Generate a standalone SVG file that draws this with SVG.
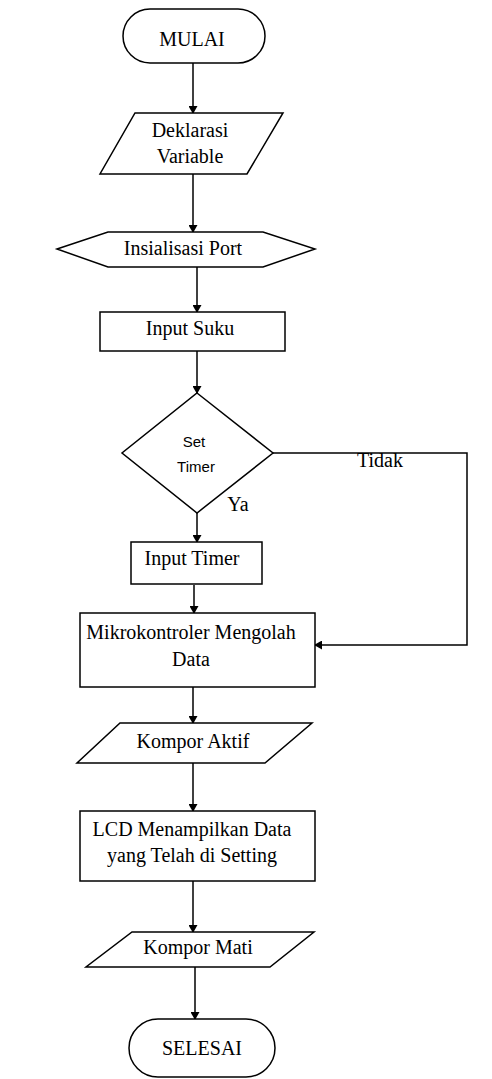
<svg xmlns="http://www.w3.org/2000/svg" width="492" height="1079" viewBox="0 0 492 1079">
<style>
.s{fill:#fff;stroke:#000;stroke-width:1.5}
.t{font-family:"Liberation Serif","Times New Roman",serif;font-size:20px;fill:#000;text-anchor:middle}
.ss{font-family:"Liberation Sans",Arial,sans-serif;font-size:15px;fill:#000;text-anchor:middle}
.c{fill:none;stroke:#000;stroke-width:1.5}
</style>
<defs>
<marker id="ah" markerWidth="8" markerHeight="9" refX="7" refY="4.5" orient="auto" markerUnits="userSpaceOnUse">
<path d="M0,0 L8,4.5 L0,9 Z" fill="#000"/>
</marker>
</defs>
<g id="connectors">
<path class="c" d="M193,63 V113" marker-end="url(#ah)"/>
<path class="c" d="M193,174 V232" marker-end="url(#ah)"/>
<path class="c" d="M197,267 V312" marker-end="url(#ah)"/>
<path class="c" d="M197,351 V393" marker-end="url(#ah)"/>
<path class="c" d="M197,513 V542" marker-end="url(#ah)"/>
<path class="c" d="M194,585 V613" marker-end="url(#ah)"/>
<path class="c" d="M273,453 H467 V645 H315" marker-end="url(#ah)"/>
<path class="c" d="M193,687 V723" marker-end="url(#ah)"/>
<path class="c" d="M193,763 V811" marker-end="url(#ah)"/>
<path class="c" d="M193,881 V932" marker-end="url(#ah)"/>
<path class="c" d="M195,967 V1019" marker-end="url(#ah)"/>
<text class="t" x="380" y="467" font-size="19">Tidak</text>
<text class="t" x="238" y="511" font-size="18">Ya</text>
</g>
<g id="mulai">
<rect class="s" x="123" y="9" width="142" height="54" rx="27"/>
<text class="t" x="192" y="46" font-size="25">MULAI</text>
</g>
<g id="deklarasi">
<polygon class="s" points="135,113 283,113 247,174 100,174"/>
<text class="t" x="190" y="137">Deklarasi</text>
<text class="t" x="190" y="163">Variable</text>
</g>
<g id="insialisasi">
<polygon class="s" points="57,249 108,232 263,232 315,249 263,267 108,267"/>
<text class="t" x="183" y="255">Insialisasi Port</text>
</g>
<g id="inputsuku">
<rect class="s" x="100" y="312" width="185" height="39"/>
<text class="t" x="190" y="335">Input Suku</text>
</g>
<g id="settimer">
<polygon class="s" points="197,393 273,453 197,513 122,453"/>
<text class="ss" x="194" y="447">Set</text>
<text class="ss" x="196" y="472">Timer</text>
</g>
<g id="inputtimer">
<rect class="s" x="131" y="542" width="131" height="42"/>
<text class="t" x="192" y="565">Input Timer</text>
</g>
<g id="mikro">
<rect class="s" x="80" y="613" width="235" height="74"/>
<text class="t" x="191" y="639">Mikrokontroler Mengolah</text>
<text class="t" x="191" y="666">Data</text>
</g>
<g id="komporaktif">
<polygon class="s" points="120,723 312,723 265,763 77,763"/>
<text class="t" x="193" y="748">Kompor Aktif</text>
</g>
<g id="lcd">
<rect class="s" x="80" y="811" width="235" height="70"/>
<text class="t" x="192" y="836">LCD Menampilkan Data</text>
<text class="t" x="192" y="862">yang Telah di Setting</text>
</g>
<g id="kompormati">
<polygon class="s" points="132,932 314,932 270,967 86,967"/>
<text class="t" x="198" y="954">Kompor Mati</text>
</g>
<g id="selesai">
<rect class="s" x="129" y="1019" width="146" height="58" rx="29"/>
<text class="t" x="202" y="1055">SELESAI</text>
</g>
</svg>
